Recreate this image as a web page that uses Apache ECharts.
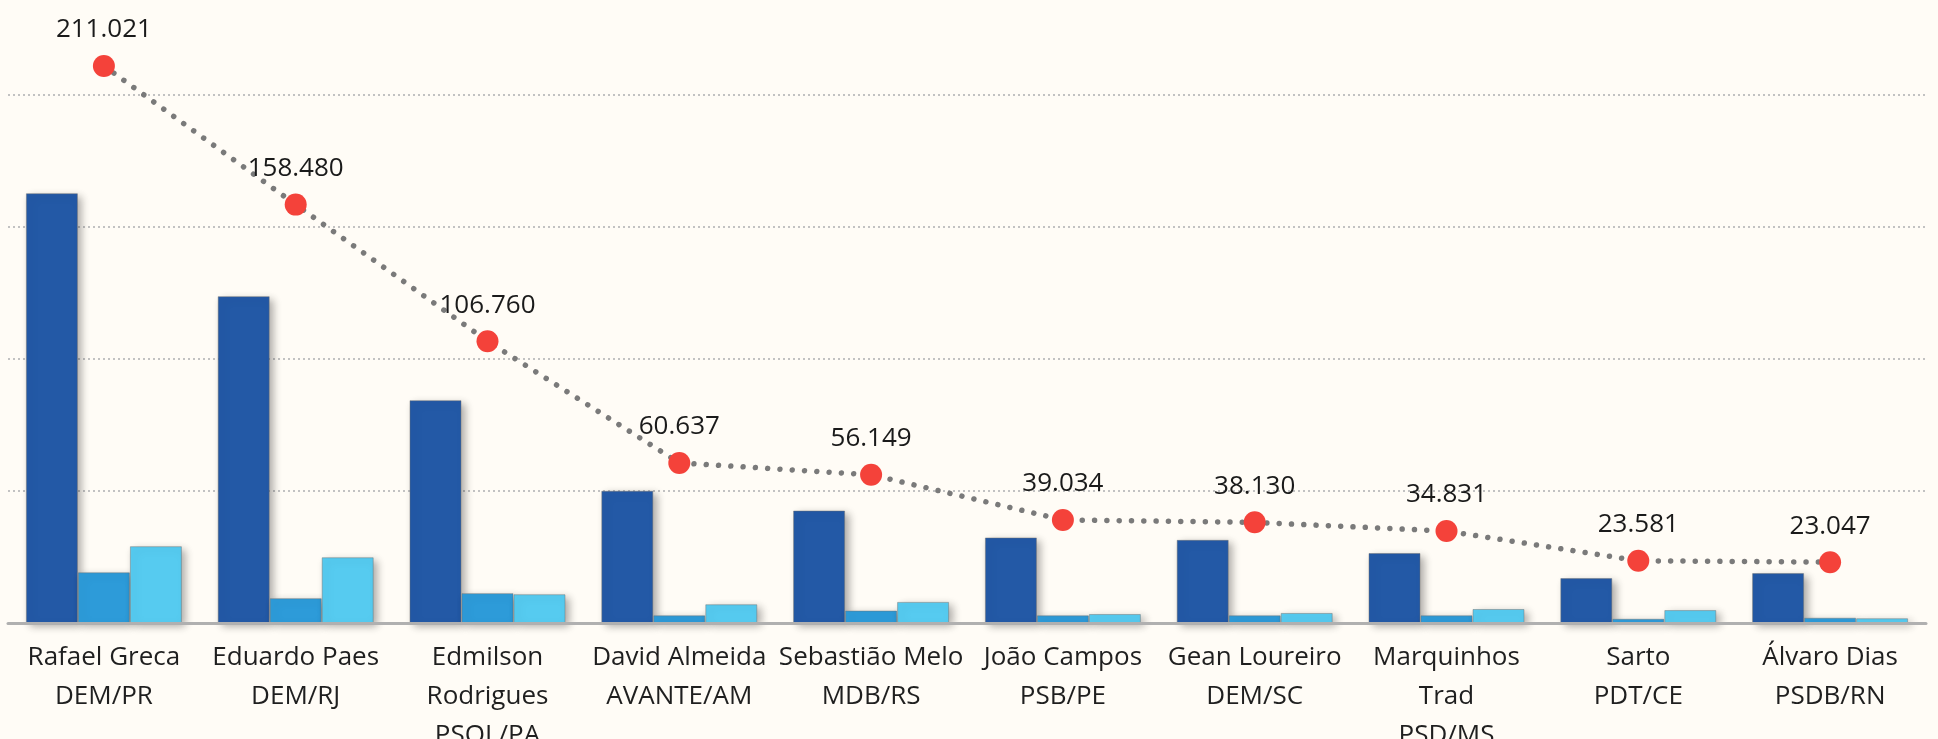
<!DOCTYPE html>
<html>
<head>
<meta charset="utf-8">
<script src="https://cdn.jsdelivr.net/npm/echarts@6/dist/echarts.min.js"></script>
<style>
  html, body { margin: 0; padding: 0; background: #fffcf6; }
  #chart { width: 1938px; height: 739px; }
</style>
</head>
<body>
<div id="chart"></div>
<script>
const candidates = [
  'Rafael Greca\nDEM/PR',
  'Eduardo Paes\nDEM/RJ',
  'Edmilson\nRodrigues\nPSOL/PA',
  'David Almeida\nAVANTE/AM',
  'Sebastião Melo\nMDB/RS',
  'João Campos\nPSB/PE',
  'Gean Loureiro\nDEM/SC',
  'Marquinhos\nTrad\nPSD/MS',
  'Sarto\nPDT/CE',
  'Álvaro Dias\nPSDB/RN'
]

// bar values
const darkValues = [162.8, 123.8, 84.4, 50.1, 42.6, 32.4, 31.5, 26.5, 17.0, 18.9]
const midValues = [19.2, 9.4, 11.3, 2.9, 4.7, 2.9, 2.9, 2.9, 1.6, 2.0]
const lightValues = [29.1, 24.9, 10.9, 7.1, 8.0, 3.4, 3.8, 5.3, 4.9, 1.8]

// line values, as labelled
const lineValues = [211.021, 158.480, 106.760, 60.637, 56.149, 39.034, 38.130, 34.831, 23.581, 23.047]

const chartDom = document.querySelector('#chart')
const myChart = echarts.init(chartDom)

const barStyle = (color) => ({
  color: color,
  borderColor: 'rgba(110,110,110,0.45)',
  borderWidth: 1,
  shadowColor: 'rgba(0,0,0,0.32)',
  shadowBlur: 8,
  shadowOffsetX: 4,
  shadowOffsetY: 3
})

const option = {
  animation: false,
  backgroundColor: '#fffcf6',
  textStyle: { fontFamily: 'Open Sans' },
  grid: {
    left: 8,
    right: 12,
    top: 95,
    bottom: 116,
    outerBoundsMode: 'none'
  },
  xAxis: {
    type: 'category',
    data: candidates,
    z: 5,
    axisLine: {
      lineStyle: { color: '#b0b0b0', width: 3 }
    },
    axisTick: {
      length: 9,
      lineStyle: { color: '#aaaaaa', width: 2 }
    },
    axisLabel: {
      color: '#1f1f1f',
      fontSize: 26,
      lineHeight: 39,
      margin: 15,
      interval: 0
    }
  },
  yAxis: {
    type: 'value',
    min: 0,
    max: 200,
    interval: 50,
    axisLabel: { show: false },
    axisLine: { show: false },
    axisTick: { show: false },
    splitLine: {
      lineStyle: { color: '#c2c2c2', width: 2, type: [2, 3] }
    }
  },
  series: [
    {
      name: 'Série A',
      type: 'bar',
      barWidth: 52,
      barGap: '0%',
      data: darkValues,
      itemStyle: barStyle('#2359a6')
    },
    {
      name: 'Série B',
      type: 'bar',
      barWidth: 52,
      barGap: '0%',
      data: midValues,
      itemStyle: barStyle('#2d9bd9')
    },
    {
      name: 'Série C',
      type: 'bar',
      barWidth: 52,
      barGap: '0%',
      data: lightValues,
      itemStyle: barStyle('#56cbf0')
    },
    {
      name: 'Total',
      type: 'line',
      data: lineValues,
      clip: false,
      z: 4,
      symbol: 'circle',
      symbolSize: 22,
      itemStyle: { color: '#f4423a' },
      lineStyle: {
        color: '#7a7a7a',
        width: 5.5,
        type: [0.01, 12.3],
        cap: 'round'
      },
      label: {
        show: true,
        position: 'top',
        distance: 12,
        color: '#1a1a1a',
        fontSize: 26,
        formatter: (p) => p.value.toFixed(3)
      }
    }
  ]
}

myChart.setOption(option)
</script>
</body>
</html>
